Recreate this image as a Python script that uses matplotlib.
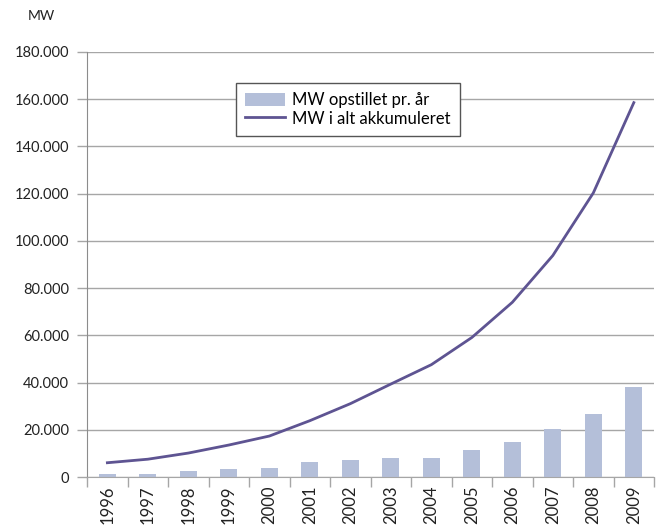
import numpy as np
import matplotlib.pyplot as plt
from matplotlib.ticker import FuncFormatter

# Data
years = ['1996', '1997', '1998', '1999', '2000', '2001', '2002',
         '2003', '2004', '2005', '2006', '2007', '2008', '2009']
annual = [1280, 1530, 2520, 3440, 3760, 6500, 7270,
          8130, 8210, 11530, 14700, 20310, 26560, 38340]
cumulative = [6100, 7600, 10200, 13600, 17400, 23900, 31100,
              39400, 47600, 59100, 74000, 93800, 120300, 158500]

plt.rcParams['font.family'] = ['Lato', 'DejaVu Sans']

fig = plt.figure(figsize=(6.6, 5.29), dpi=100)
ax = fig.add_axes([0.132, 0.098, 0.859, 0.804])

x = np.arange(len(years))
grid_c = '#a6a6a6'

bars = ax.bar(x, annual, width=0.42, color='#b4bfd9', label='MW opstillet pr. år', zorder=2)
line, = ax.plot(x, cumulative, color='#5e5492', lw=2, label='MW i alt akkumuleret', zorder=3)

ax.set_xlim(-0.5, len(years) - 0.5)
ax.set_ylim(0, 180000)
ax.set_yticks(np.arange(0, 180001, 20000))
ax.yaxis.set_major_formatter(FuncFormatter(lambda v, p: f'{int(v):,}'.replace(',', '.')))
ax.yaxis.grid(True, color=grid_c, lw=1, zorder=0)
ax.set_axisbelow(True)

ax.set_xticks(x)
ax.set_xticklabels(years, rotation=90)
ax.set_xticks(np.arange(-0.5, len(years)), minor=True)
ax.tick_params(axis='x', which='major', length=0, pad=6, labelsize=12, colors='#222222')
ax.tick_params(axis='x', which='minor', length=7, color=grid_c, width=1)
ax.tick_params(axis='y', length=7, color=grid_c, width=1, labelsize=10.5, colors='#222222', pad=6)
ax.tick_params(axis='y', labelcolor='#222222')

for s in ['top', 'right']:
    ax.spines[s].set_visible(False)
ax.spines['left'].set_color('#8c8c8c')
ax.spines['bottom'].set_color(grid_c)

ax.text(-0.105, 1.075, 'MW', transform=ax.transAxes, fontsize=10, color='#222222')

leg = ax.legend([bars, line], ['MW opstillet pr. år', 'MW i alt akkumuleret'],
                loc='upper left', bbox_to_anchor=(0.263, 0.927), fontsize=12,
                frameon=True, fancybox=False, edgecolor='#555555',
                handlelength=2.4, handleheight=0.8, borderpad=0.55,
                labelspacing=0.15, handletextpad=0.4, borderaxespad=0)
leg.get_frame().set_linewidth(1)
leg.get_frame().set_alpha(1)

fig.savefig('out.png', dpi=100)
